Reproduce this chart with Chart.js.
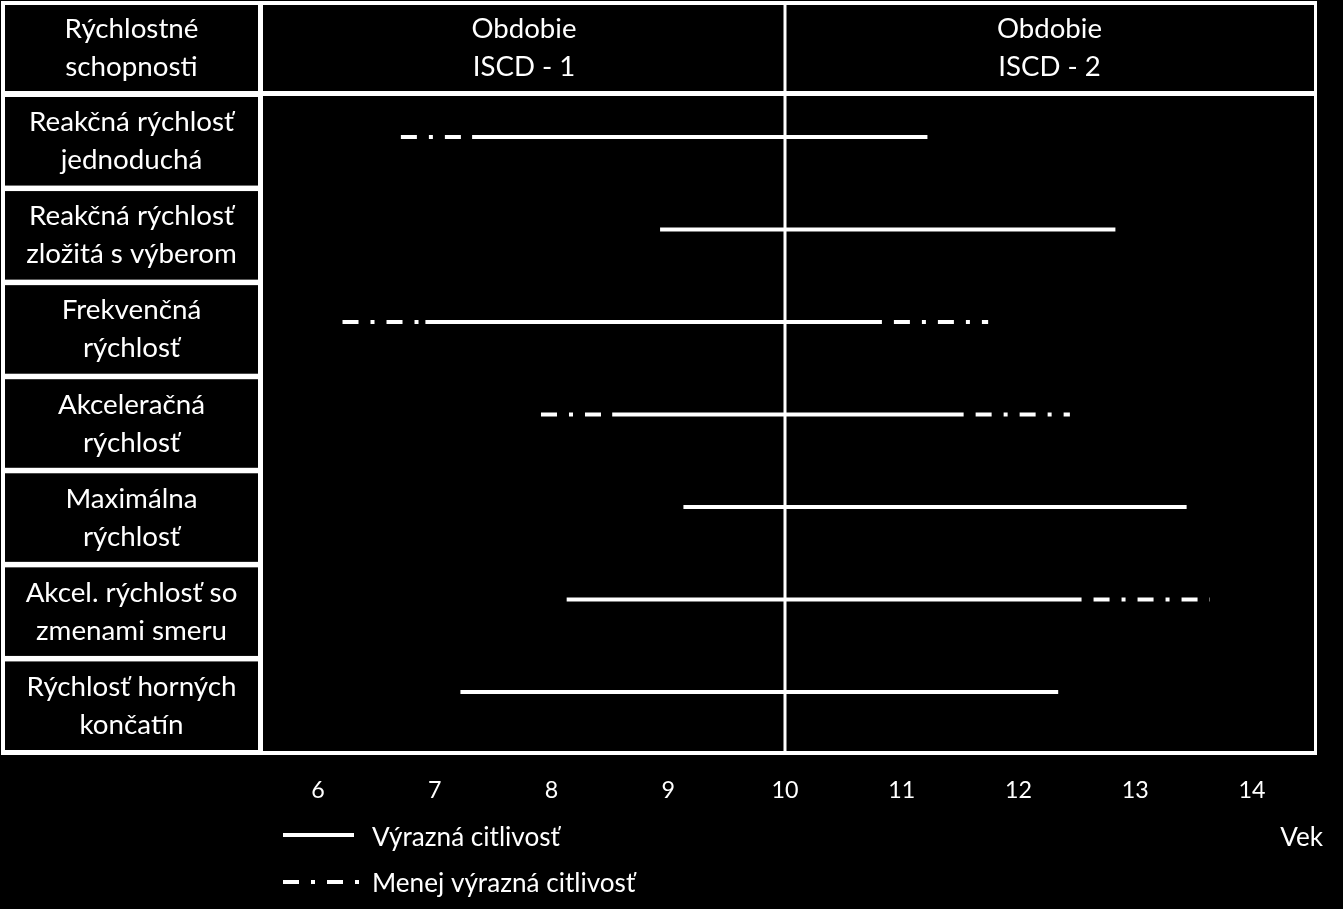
<!DOCTYPE html>
<html>
<head>
<meta charset="utf-8">
<script src="https://cdn.jsdelivr.net/npm/chart.js@4.4.0/dist/chart.umd.min.js"></script>
<style>
html,body{margin:0;padding:0;background:#000;overflow:hidden}
canvas{display:block}
</style>
</head>
<body>
<canvas id="c" width="1343" height="909"></canvas>
<script>
// ---- data ----
const categories = [
  ['Reakčná rýchlosť', 'jednoduchá'],
  ['Reakčná rýchlosť', 'zložitá s výberom'],
  ['Frekvenčná', 'rýchlosť'],
  ['Akceleračná', 'rýchlosť'],
  ['Maximálna', 'rýchlosť'],
  ['Akcel. rýchlosť so', 'zmenami smeru'],
  ['Rýchlosť horných', 'končatín']
];
const headerLabel = ['Rýchlostné', 'schopnosti'];
const periodLabels = [['Obdobie', 'ISCD - 1'], ['Obdobie', 'ISCD - 2']];
const periodBoundary = 10;
const xTicks = [6, 7, 8, 9, 10, 11, 12, 13, 14];
const axisTitle = 'Vek';
const legendLabels = ['Výrazná citlivosť', 'Menej výrazná citlivosť'];

// "Výrazná citlivosť" (solid)
const strongStart = [7.32, 8.93, 6.92, 8.52, 9.13, 8.13, 7.22];
const strongEnd   = [11.22, 12.83, 10.83, 11.53, 13.44, 12.54, 12.34];
// "Menej výrazná citlivosť" (dash-dot), before the solid part
const weakLeftStart = [6.71, null, 6.21, 7.91, null, null, null];
const weakLeftEnd   = [7.32, null, 6.92, 8.52, null, null, null];
// "Menej výrazná citlivosť" (dash-dot), after the solid part
const weakRightStart = [null, null, 10.83, 11.53, null, 12.54, null];
const weakRightEnd   = [null, null, 11.74, 12.44, null, 13.64, null];

// ---- styling ----
const W = 1343, H = 909;
const FONT = 'Lato, "Open Sans", sans-serif';
const DASH = [16, 12, 4, 12];
const mctx = document.createElement('canvas').getContext('2d');
function fit(text, target) { mctx.font = '100px ' + FONT; return 100 * target / mctx.measureText(text).width; }
const labelSize = fit('Rýchlosť horných', 210);
const headSize = fit('Obdobie', 105);
const tickSize = fit('12', 27);
const legendSize = fit('Výrazná citlivosť', 188);

const datasets = [];
categories.forEach((c, i) => {
  const add = (s, e, weak, off) => {
    if (s == null || e == null) return;
    datasets.push({
      data: [{x: s, y: i}, {x: e, y: i}],
      borderColor: '#ffffff',
      borderWidth: 4,
      borderDash: weak ? DASH : [],
      borderDashOffset: off || 0,
      borderCapStyle: 'butt',
      pointRadius: 0,
      pointHoverRadius: 0,
      fill: false,
      tension: 0
    });
  };
  add(strongStart[i], strongEnd[i], false, 0);
  add(weakLeftStart[i], weakLeftEnd[i], true, 0);
  add(weakRightStart[i], weakRightEnd[i], true, 32);
});

const tablePlugin = {
  id: 'table',
  beforeDraw(chart) {
    const ctx = chart.ctx, a = chart.chartArea;
    const xb = chart.scales.x.getPixelForValue(periodBoundary);
    ctx.save();
    ctx.fillStyle = '#000';
    ctx.fillRect(0, 0, W, H);
    // white frame / grid
    ctx.fillStyle = '#fff';
    ctx.fillRect(1, 1, a.right + 3 - 1, a.bottom + 4 - 1);
    ctx.fillStyle = '#000';
    const colL = 5, colR = 258, headT = 5, headB = 91;
    ctx.fillRect(colL, headT, colR - colL, headB - headT);
    ctx.fillRect(a.left, headT, xb - 1.5 - a.left, headB - headT);
    ctx.fillRect(xb + 1.5, headT, a.right - xb - 1.5, headB - headT);
    ctx.fillRect(a.left, a.top, a.width, a.height);
    const n = categories.length, gap = 5.5;
    const top0 = a.top + 1, span = a.bottom - 1 - top0;
    const pitch = (span + gap) / n, ch = pitch - gap;
    for (let i = 0; i < n; i++) ctx.fillRect(colL, top0 + i * pitch, colR - colL, ch);
    // period divider
    ctx.fillStyle = '#fff';
    ctx.fillRect(xb - 1.5, a.top, 3, a.height);

    // texts
    ctx.fillStyle = '#fff';
    ctx.textAlign = 'center';
    ctx.textBaseline = 'alphabetic';
    ctx.font = labelSize + 'px ' + FONT;
    const cx = (colL + colR) / 2;
    let hc = (headT + headB) / 2;
    ctx.fillText(headerLabel[0], cx, hc - 10);
    ctx.fillText(headerLabel[1], cx, hc + 28);
    for (let i = 0; i < n; i++) {
      const c = top0 + i * pitch + ch / 2;
      ctx.fillText(categories[i][0], cx, c - 10);
      ctx.fillText(categories[i][1], cx, c + 28);
    }
    ctx.font = headSize + 'px ' + FONT;
    const p1 = (a.left + xb) / 2, p2 = (xb + a.right) / 2;
    ctx.fillText(periodLabels[0][0], p1, hc - 10);
    ctx.fillText(periodLabels[0][1], p1, hc + 28);
    ctx.fillText(periodLabels[1][0], p2, hc - 10);
    ctx.fillText(periodLabels[1][1], p2, hc + 28);

    // legend
    ctx.strokeStyle = '#fff';
    ctx.lineWidth = 4;
    ctx.lineCap = 'butt';
    ctx.beginPath(); ctx.moveTo(283, 835); ctx.lineTo(354, 835); ctx.stroke();
    ctx.setLineDash(DASH);
    ctx.beginPath(); ctx.moveTo(283, 882); ctx.lineTo(360, 882); ctx.stroke();
    ctx.setLineDash([]);
    ctx.font = legendSize + 'px ' + FONT;
    ctx.textAlign = 'left';
    ctx.fillText(legendLabels[0], 372, 846);
    ctx.fillText(legendLabels[1], 372, 892);
    ctx.textAlign = 'right';
    ctx.fillText(axisTitle, 1323, 846);
    ctx.restore();
  }
};

new Chart(document.getElementById('c'), {
  type: 'line',
  data: { datasets },
  options: {
    responsive: false,
    devicePixelRatio: 1,
    animation: false,
    events: [],
    layout: { padding: { left: 263, right: 29, top: 96, bottom: 98 } },
    plugins: { legend: { display: false }, tooltip: { enabled: false } },
    scales: {
      x: {
        type: 'linear',
        min: 5.529, max: 14.531,
        afterBuildTicks: s => { s.ticks = xTicks.map(v => ({ value: v })); },
        afterFit: s => { s.height = 60; },
        grid: { display: false, drawTicks: false },
        border: { display: false },
        ticks: { color: '#fff', font: { family: FONT, size: tickSize }, padding: 26, autoSkip: false, maxRotation: 0 }
      },
      y: {
        type: 'linear',
        display: false,
        reverse: true,
        min: -0.443, max: 6.638
      }
    }
  },
  plugins: [tablePlugin]
});
</script>
</body>
</html>
